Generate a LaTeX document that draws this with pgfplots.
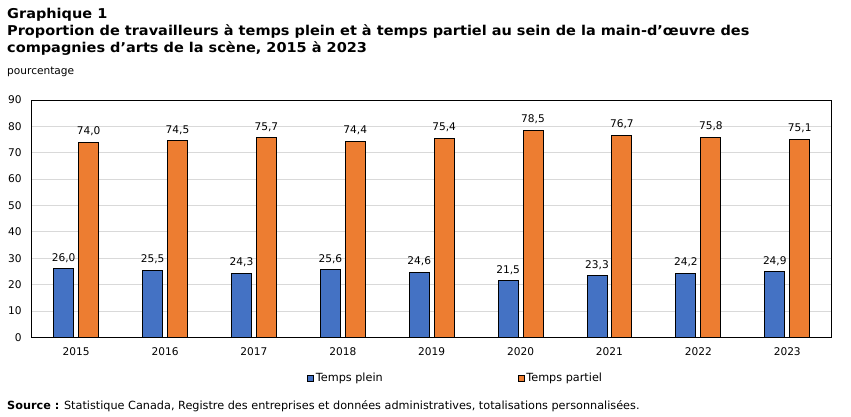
\documentclass[border=0pt]{standalone}
\usepackage{fontspec}
\setmainfont{DejaVu Sans}
\newfontfamily\titlefont[FakeStretch=1.07]{DejaVu Sans}
\usepackage{pgfplots}
\pgfplotsset{compat=1.18}
\definecolor{plein}{HTML}{4472C4}
\definecolor{partiel}{HTML}{ED7D31}
\definecolor{gridgray}{HTML}{D9D9D9}

\newcommand{\smallfont}{\fontsize{10.6bp}{12.5bp}\selectfont}
\newcommand{\notefont}{\fontsize{11.25bp}{13bp}\selectfont}

\pgfplotsset{
  sqlegend/.style={legend image code/.code={%
      \draw[##1, draw=black, line width=0.6bp] (0bp,-3bp) rectangle (6bp,3bp);}},
}

\begin{document}
\begin{tikzpicture}
\path[use as bounding box] (0,0) rectangle (851bp,417bp);
\begin{scope}[every node/.style={anchor=base west, inner sep=0pt}]
  \node[font=\titlefont\fontsize{13.55bp}{16bp}\selectfont\bfseries] at (7bp,398.3bp) {Graphique 1};
  \node[font=\titlefont\fontsize{13.55bp}{16bp}\selectfont\bfseries] at (7bp,381.3bp)
    {Proportion de travailleurs à temps plein et à temps partiel au sein de la main-d’œuvre des};
  \node[font=\titlefont\fontsize{13.55bp}{16bp}\selectfont\bfseries] at (7bp,364.7bp)
    {compagnies d’arts de la scène, 2015 à 2023};
  \node[font=\smallfont] at (7bp,342bp) {pourcentage};
  \node[font=\notefont] at (7bp,8bp)
    {\textbf{Source :} Statistique Canada, Registre des entreprises et données administratives, totalisations personnalisées.};
\end{scope}

\begin{axis}[
  scale only axis, width=800bp, height=237.3bp,
  at={(31.7bp,79.7bp)}, anchor=south west,
  xmin=-0.5, xmax=8.5, ymin=0, ymax=90,
  xtick={0,...,8},
  xticklabels={2015,2016,2017,2018,2019,2020,2021,2022,2023},
  ytick={0,10,...,90},
  ymajorgrids, grid style={gridgray, line width=0.8bp},
  major tick length=0pt,
  axis line style={black, line width=0.8bp},
  tick label style={font=\smallfont},
  yticklabel style={anchor=east, inner sep=0pt, xshift=-10bp},
  xticklabel style={anchor=north, inner sep=0pt, yshift=-10bp},
  /pgf/number format/assume math mode=true,
  nodes near coords={\pgfmathprintnumber[fixed, fixed zerofill, precision=1, use comma]{\pgfplotspointmeta}},
  every node near coord/.append style={font=\smallfont, anchor=base, inner sep=0pt, yshift=7.5bp, text=black},
  legend columns=2,
  legend style={draw=none, fill=none, at={(0.53,-0.1715)}, anchor=center,
    font=\notefont,
    /tikz/every even column/.append style={column sep=133bp}},
]
% full-time share, bars left of each year
\addplot[ybar, bar width=0.225, bar shift=-0.14, fill=plein, draw=black, line width=0.9bp, sqlegend,
  every node near coord/.append style={xshift=-12.45bp}]
  coordinates {(0,26.0) (1,25.5) (2,24.3) (3,25.6) (4,24.6) (5,21.5) (6,23.3) (7,24.2) (8,24.9)};
\addlegendentry{Temps plein}
% part-time share, bars right of each year
\addplot[ybar, bar width=0.225, bar shift=0.14, fill=partiel, draw=black, line width=0.9bp, sqlegend,
  every node near coord/.append style={xshift=12.45bp}]
  coordinates {(0,74.0) (1,74.5) (2,75.7) (3,74.4) (4,75.4) (5,78.5) (6,76.7) (7,75.8) (8,75.1)};
\addlegendentry{Temps partiel}
\end{axis}
\end{tikzpicture}
\end{document}
